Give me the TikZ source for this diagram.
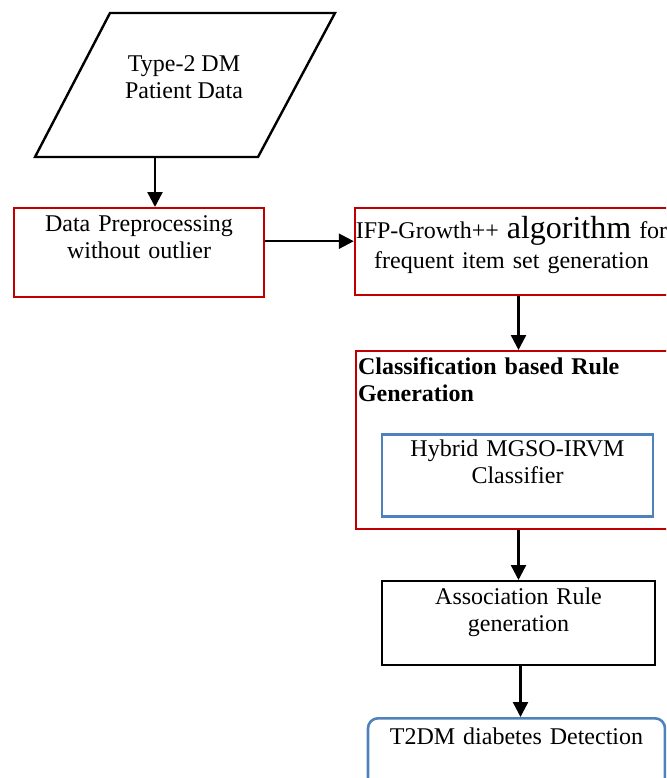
\documentclass[tikz,border=0pt]{standalone}
\usepackage{fontspec}
\setmainfont{Liberation Serif}
\usepackage{tikz}
\usetikzlibrary{arrows.meta,calc}

\definecolor{boxred}{RGB}{192,0,0}
\definecolor{boxblue}{RGB}{79,129,189}

\begin{document}
\begin{tikzpicture}[x=0.5pt, y=-0.5pt,
  every node/.style={font=\fontsize{12}{13.5}\selectfont, inner sep=0pt},
  arr/.style={-{Triangle[length=7.5pt,width=7.5pt]}, line width=1.2pt},
  flowbox/.style={draw, line width=1.2pt, align=center, anchor=north},
  redbox/.style={flowbox, draw=boxred},
  bluebox/.style={flowbox, draw=boxblue, line width=1.3pt},
  blackbox/.style={flowbox, draw=black}
]
\clip (0,0) rectangle (666,778);
% ---- input data ----
\draw[line width=1.2pt] (110,13) -- (335,13) -- (258,157) -- (35,157) -- cycle;
\node[align=center] (patient) at (184,77) {Type-2 DM\\Patient Data};
\coordinate (patientout) at (155,157);
% ---- preprocessing and mining ----
\node[redbox, text width=125pt, text height=11.5pt, text depth=33pt] (prep) at (139,207)
  {Data Preprocessing\\without outlier};
\node[redbox, text width=156.5pt, text height=15pt, text depth=28.5pt] (ifp) at (511.5,207)
  {IFP-Growth++ {\fontsize{16}{16}\selectfont algorithm} for\\[1.5pt]frequent item set generation};
% ---- rule generation ----
\node[redbox, align=left, inner xsep=1pt, text width=154pt, text height=11.5pt, text depth=77.5pt] (class) at (512,350)
  {\textbf{Classification based Rule\\Generation}};
\node[bluebox, text width=135.5pt, text height=11pt, text depth=30pt] (hybrid) at (517.5,433)
  {Hybrid MGSO-IRVM\\Classifier};
\node[blackbox, text width=136.5pt, text height=11.5pt, text depth=30.5pt] (assoc) at (518.5,580)
  {Association Rule\\generation};
\node[bluebox, rounded corners=5pt, text width=148.5pt, text height=13pt, text depth=28.5pt] (detect) at (516.5,717)
  {T2DM diabetes Detection};
% ---- arrows ----
\draw[arr] (patientout) -- (patientout |- prep.north);
\coordinate (joint) at ([yshift=5.75pt]prep.east);
\draw[arr] (joint) -- (joint -| ifp.west);
\draw[arr] (ifp.south -| assoc.north) -- (class.north -| assoc.north);
\draw[arr] (class.south -| assoc.north) -- (assoc.north);
\coordinate (assocout) at ([xshift=1pt]assoc.south);
\draw[arr] (assocout) -- (assocout |- detect.north);
\end{tikzpicture}
\end{document}
